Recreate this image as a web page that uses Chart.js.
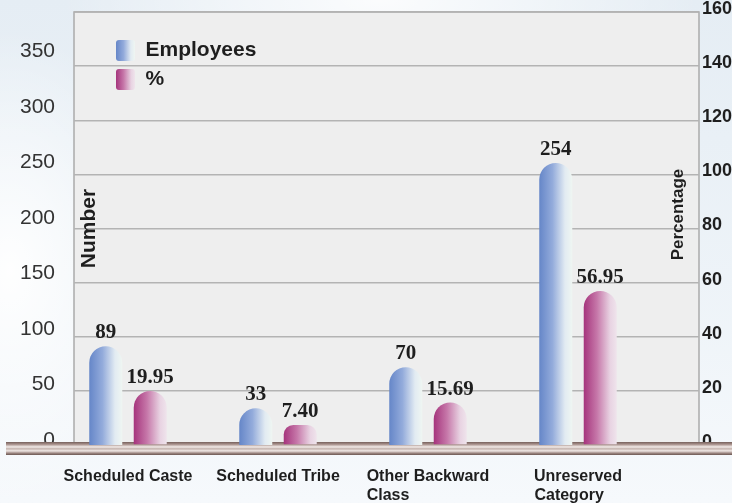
<!DOCTYPE html>
<html lang="en">
<head>
  <meta charset="UTF-8"/>
  <title>Employees by Category</title>
  <style>
    body { margin: 0; background: #eef4f8; }
    .wrap {
      position: relative; width: 732px; height: 503px;
      background:
        radial-gradient(ellipse 150px 240px at 10px 270px, rgba(255,255,255,0.95), rgba(255,255,255,0)),
        radial-gradient(ellipse 320px 110px at 380px 0px, rgba(255,255,255,0.85), rgba(255,255,255,0)),
        linear-gradient(180deg, #e5edf4 0%, #edf3f8 55%, #f6f9fc 100%);
    }
  </style>
  <script src="https://cdn.jsdelivr.net/npm/chart.js@4"></script>
</head>
<body>
  <div class="wrap"><canvas id="chart"></canvas></div>

  <script>
    const categories = [['Scheduled Caste'], ['Scheduled Tribe'], ['Other Backward', 'Class'], ['Unreserved', 'Category']];
    const employees = [89, 33, 70, 254];
    const percent = [19.95, 7.40, 15.69, 56.95];
    const numberTicks = [0, 50, 100, 150, 200, 250, 300, 350];
    const percentTicks = [0, 20, 40, 60, 80, 100, 120, 140, 160];

    const blueStops = [[0, '#6586c8'], [0.4, '#93abdb'], [0.78, '#e2ebf2'], [1, '#eff6f2']];
    const pinkStops = [[0, '#a5347c'], [0.4, '#c677a9'], [0.8, '#e8d3e2'], [1, '#efe4ec']];
    const labelFont = 'bold 16px "Liberation Sans"';

    // second line of a two-line label starts under the first one
    const measure = document.createElement('canvas').getContext('2d');
    function padLines(lines) {
      measure.font = labelFont;
      const w = measure.measureText(lines[0]).width;
      return lines.map((l, i) => {
        let s = l;
        if (i > 0) while (measure.measureText(s + ' ').width <= w) s += ' ';
        return s;
      });
    }
    const xLabels = categories.map(padLines);

    function gradient(ctx, x0, x1, stops) {
      const g = ctx.createLinearGradient(x0, 0, x1, 0);
      stops.forEach(([o, c]) => g.addColorStop(o, c));
      return g;
    }

    function barFill(stops) {
      return (c) => {
        const el = c.element;
        if (!el || !isFinite(el.x) || !isFinite(el.width)) return stops[1][1];
        return gradient(c.chart.ctx, el.x - el.width / 2, el.x + el.width / 2, stops);
      };
    }

    const noPad = (s) => { s.paddingTop = 0; s.paddingBottom = 0; };

    const frame = {
      id: 'frame',
      beforeDraw(chart) {
        const { ctx, chartArea: a } = chart;
        ctx.save();
        ctx.fillStyle = '#eeeeee';
        ctx.fillRect(a.left, a.top, a.width, a.height);
        ctx.strokeStyle = '#aaaaaa';
        ctx.lineWidth = 1.5;
        ctx.beginPath();
        ctx.moveTo(a.left, a.bottom);
        ctx.lineTo(a.left, a.top);
        ctx.lineTo(a.right, a.top);
        ctx.lineTo(a.right, a.bottom);
        ctx.stroke();
        ctx.restore();
      },
      afterLayout(chart) {
        const a = chart.chartArea;
        chart.legend.left = a.left + 34;
        chart.legend.top = a.top + 20;
      },
      beforeDatasetsDraw(chart) {
        const { ctx, chartArea: a } = chart;
        // brown tube under the bars
        const y0 = a.bottom - 3, y1 = a.bottom + 10;
        const g = ctx.createLinearGradient(0, y0, 0, y1);
        g.addColorStop(0, '#76605b');
        g.addColorStop(0.18, '#a8918c');
        g.addColorStop(0.38, '#f3ece9');
        g.addColorStop(0.52, '#c4b3ae');
        g.addColorStop(0.68, '#f0e8e5');
        g.addColorStop(0.86, '#9c8681');
        g.addColorStop(1, '#6b5752');
        ctx.save();
        ctx.fillStyle = g;
        ctx.fillRect(6, y0, chart.width - 6, y1 - y0);

        ctx.fillStyle = '#1e1e1e';
        ctx.textAlign = 'center';
        ctx.textBaseline = 'middle';
        ctx.font = 'bold 21px "Liberation Sans"';
        ctx.translate(a.left + 15, (a.top + a.bottom) / 2);
        ctx.rotate(-Math.PI / 2);
        ctx.fillText('Number', 0, 0);
        ctx.restore();

        ctx.save();
        ctx.fillStyle = '#1e1e1e';
        ctx.textAlign = 'center';
        ctx.textBaseline = 'middle';
        ctx.font = 'bold 17px "Liberation Sans"';
        ctx.translate(a.right - 21, (a.top + a.bottom) / 2 - 14);
        ctx.rotate(-Math.PI / 2);
        ctx.fillText('Percentage', 0, 0);
        ctx.restore();
      },
      afterDatasetsDraw(chart) {
        const ctx = chart.ctx;
        ctx.save();
        ctx.font = 'bold 21px "Liberation Serif"';
        ctx.fillStyle = '#1e1e1e';
        ctx.textAlign = 'center';
        ctx.textBaseline = 'alphabetic';
        chart.data.datasets.forEach((ds, i) => {
          chart.getDatasetMeta(i).data.forEach((bar, j) => {
            const v = ds.data[j].y;
            ctx.fillText(i === 0 ? String(v) : v.toFixed(2), bar.x, bar.y - 8);
          });
        });
        ctx.restore();
      }
    };

    const round = { topLeft: 17, topRight: 17, bottomLeft: 0, bottomRight: 0 };

    const chart = new Chart(document.getElementById('chart'), {
      type: 'bar',
      data: {
        datasets: [{
          label: 'Employees',
          data: employees.map((v, i) => ({ x: i, y: v })),
          yAxisID: 'y',
          backgroundColor: barFill(blueStops),
          borderRadius: round,
          borderSkipped: false,
          categoryPercentage: 0.593,
          barPercentage: 0.742
        }, {
          label: '%',
          data: percent.map((v, i) => ({ x: i, y: v })),
          yAxisID: 'y1',
          backgroundColor: barFill(pinkStops),
          borderRadius: round,
          borderSkipped: false,
          categoryPercentage: 0.593,
          barPercentage: 0.742
        }]
      },
      options: {
        responsive: true,
        maintainAspectRatio: false,
        animation: false,
        layout: { padding: { top: 12, left: 0, right: 0, bottom: 0 } },
        plugins: {
          tooltip: { enabled: false },
          legend: {
            position: 'chartArea',
            align: 'start',
            labels: {
              boxWidth: 19,
              boxHeight: 21,
              padding: 8,
              color: '#1e1e1e',
              font: { family: 'Liberation Sans', size: 21, weight: 'bold' },
              useBorderRadius: true,
              borderRadius: 3,
              generateLabels(chart) {
                const items = Chart.defaults.plugins.legend.labels.generateLabels(chart);
                const lg = chart.legend;
                items.forEach((it, i) => {
                  it.lineWidth = 0;
                  if (lg && isFinite(lg.left)) {
                    const x = lg.left + 8;
                    it.fillStyle = gradient(chart.ctx, x, x + 19, i === 0 ? blueStops : pinkStops);
                  }
                });
                return items;
              }
            }
          }
        },
        scales: {
          x: {
            type: 'linear',
            position: 'bottom',
            min: -0.36,
            max: 3.8067,
            offset: false,
            grid: { display: false, offset: false },
            border: { display: false },
            afterBuildTicks: (s) => { s.ticks = categories.map((_, i) => ({ value: i })); },
            afterFit: (s) => { s.height = 58; },
            ticks: {
              autoSkip: false,
              maxRotation: 0,
              padding: 15,
              color: '#1e1e1e',
              font: { family: 'Liberation Sans', size: 16, weight: 'bold', lineHeight: 1.13 },
              callback: (v) => xLabels[v]
            }
          },
          y: {
            position: 'left',
            min: 0,
            max: 390,
            grid: { display: false },
            border: { display: false },
            afterBuildTicks: (s) => { s.ticks = numberTicks.map(v => ({ value: v })); },
            afterFit: (s) => { s.width = 74; noPad(s); },
            ticks: {
              padding: 11,
              labelOffset: -5,
              color: '#333333',
              font: { family: 'Liberation Sans', size: 21 }
            }
          },
          y1: {
            position: 'right',
            min: 0,
            max: 160,
            grid: { color: '#b3b3b3', lineWidth: 1.5, drawTicks: false },
            border: { display: false },
            afterBuildTicks: (s) => { s.ticks = percentTicks.map(v => ({ value: v })); },
            afterFit: (s) => { s.width = 33; noPad(s); },
            ticks: {
              padding: 3,
              labelOffset: -3,
              color: '#1e1e1e',
              font: { family: 'Liberation Sans', size: 18, weight: 'bold' }
            }
          }
        }
      },
      plugins: [frame]
    });

    // second pass so the gradients can use the bar and legend positions
    chart.update();
  </script>
</body>
</html>
